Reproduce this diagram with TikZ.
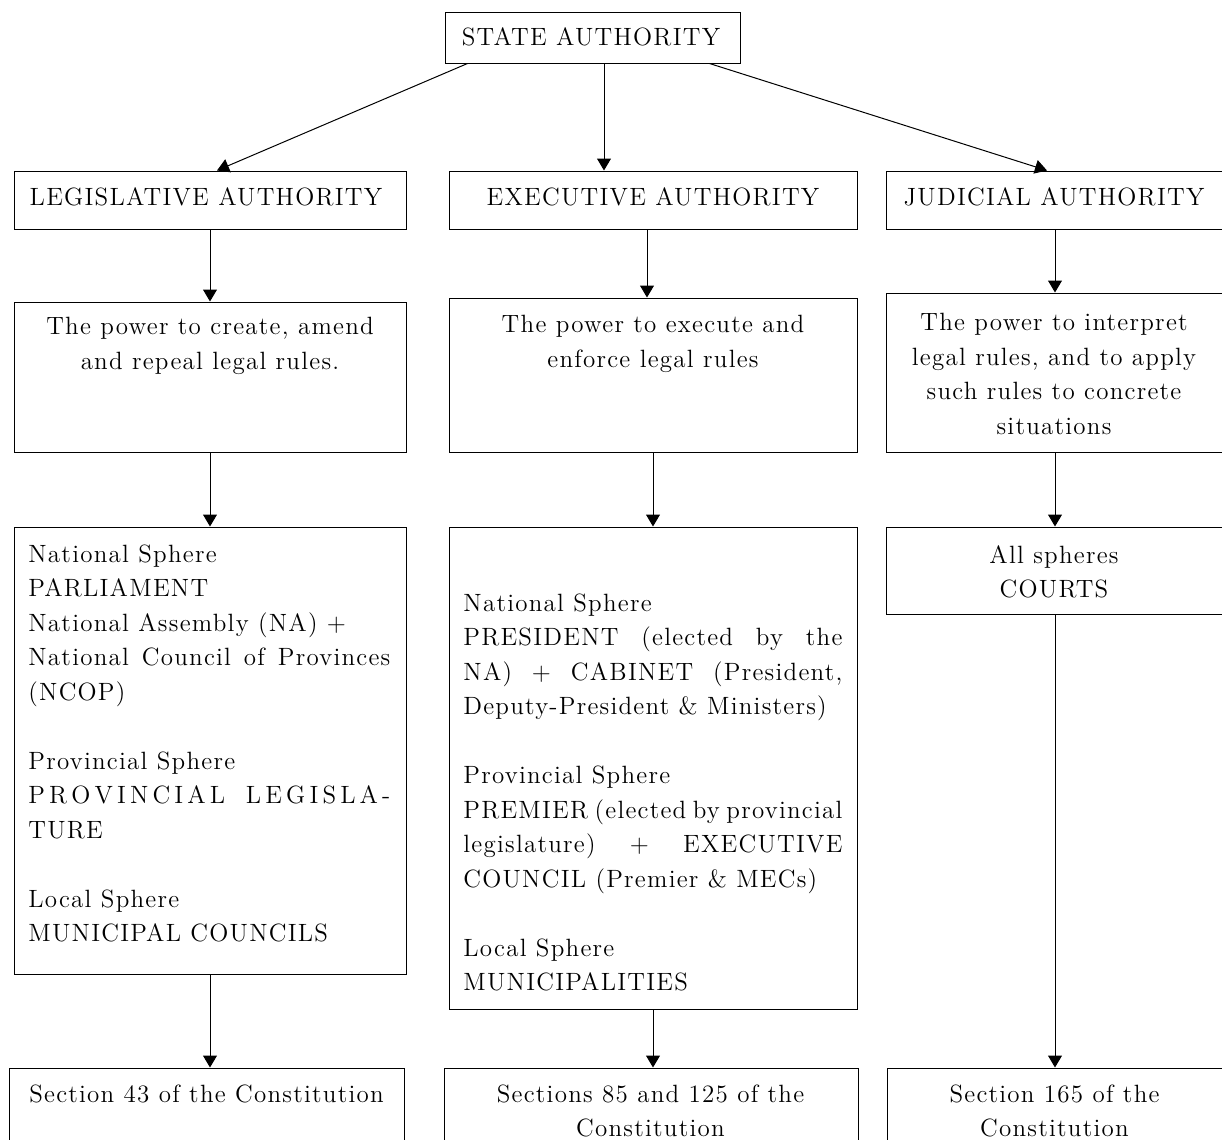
\documentclass[tikz,border=0pt]{standalone}
\usepackage{fontspec}
\setmainfont{Latin Modern Roman}[LetterSpace=5]
\usetikzlibrary{arrows.meta,fit}

% widths of the justified text blocks
\newlength\legw \setlength\legw{181pt}
\newlength\exew \setlength\exew{189.5pt}
\newcommand\justline[2]{\makebox[#1][s]{#2}}

\begin{document}
\begin{tikzpicture}[x=0.5pt,y=-0.5pt,
  frame/.style={draw, line width=0.5pt, inner sep=0pt},
  lbl/.style={inner sep=0pt, font=\fontsize{12.5}{17.25}\selectfont},
  arr/.style={-{Triangle[length=6pt,width=7pt]}, line width=0.5pt},
]
\path[use as bounding box] (0,0) rectangle (1222,1140);
\fill[white] (0,0) rectangle (1222,1140);
\clip (0,0) rectangle (1222,1140);

% ---- boxes ----
\node[frame, fit={(445,12) (740,63)}] (state) {};

\node[frame, fit={(14,171) (406,229)}] (leg1) {};
\node[frame, fit={(449,171) (857,229)}] (exe1) {};
\node[frame, fit={(886,171) (1224,229)}] (jud1) {};

\node[frame, fit={(14,302) (406,452)}] (leg2) {};
\node[frame, fit={(449,298) (857,452)}] (exe2) {};
\node[frame, fit={(886,293) (1224,452)}] (jud2) {};

\node[frame, fit={(14,527) (406,974)}] (leg3) {};
\node[frame, fit={(449,527) (857,1009)}] (exe3) {};
\node[frame, fit={(886,527) (1224,614)}] (jud3) {};

\node[frame, fit={(9,1068) (404,1150)}] (leg4) {};
\node[frame, fit={(444,1068) (858,1150)}] (exe4) {};
\node[frame, fit={(887,1068) (1224,1150)}] (jud4) {};

% ---- texts ----
\node[lbl, anchor=base] (state-t) at (591,46) {STATE AUTHORITY};
\node[lbl, anchor=base] (leg1-t) at (206,205) {LEGISLATIVE AUTHORITY};
\node[lbl, anchor=base] (exe1-t) at (653,205) {EXECUTIVE AUTHORITY};
\node[lbl, anchor=base] (jud1-t) at (1054,205) {JUDICIAL AUTHORITY};

\node[lbl, anchor=north, align=center] (leg2-t) at (210,317)
  {The power to create, amend\\and repeal legal rules.};
\node[lbl, anchor=north, align=center] (exe2-t) at (653,315)
  {The power to execute and\\enforce legal rules};
\node[lbl, anchor=north, align=center] (jud2-t) at (1054,313)
  {The power to interpret\\legal rules, and to apply\\such rules to concrete\\situations};

\node[lbl, anchor=north west, align=left] (leg3-t) at (28,544) {%
  National Sphere\\
  PARLIAMENT\\
  National Assembly (NA) +\\
  \justline\legw{National Council of Provinces}\\
  (NCOP)\\[17.25pt]
  Provincial Sphere\\
  \makebox[\legw]{P\hfill R\hfill O\hfill V\hfill I\hfill N\hfill C\hfill I\hfill A\hfill L\hfill\hfill\hfill\hfill\hfill L\hfill E\hfill G\hfill I\hfill S\hfill L\hfill A\hfill -}\\
  TURE\\[17.25pt]
  Local Sphere\\
  MUNICIPAL COUNCILS};

\node[lbl, anchor=north west, align=left] (exe3-t) at (463,593) {%
  National Sphere\\
  \justline\exew{PRESIDENT (elected by the}\\
  \justline\exew{NA) + CABINET (President,}\\
  Deputy-President \& Ministers)\\[17.25pt]
  Provincial Sphere\\
  \justline\exew{PREMIER (elected by provincial}\\
  \justline\exew{legislature) + EXECUTIVE}\\
  COUNCIL (Premier \& MECs)\\[17.25pt]
  Local Sphere\\
  MUNICIPALITIES};

\node[lbl, anchor=north, align=center] (jud3-t) at (1054,545)
  {All spheres\\COURTS};

\node[lbl, anchor=north, align=center] (leg4-t) at (206.5,1084)
  {Section 43 of the Constitution};
\node[lbl, anchor=north, align=center] (exe4-t) at (650.5,1084)
  {Sections 85 and 125 of the\\Constitution};
\node[lbl, anchor=north, align=center] (jud4-t) at (1054.5,1084)
  {Section 165 of the\\Constitution};

% ---- connectors ----
\coordinate (sa) at ([xshift=11.5pt]state.south west);
\coordinate (sb) at ([xshift=5.75pt]state.south);
\coordinate (sc) at ([xshift=-15.5pt]state.south east);
\draw[arr] (sa) -- ([xshift=3.5pt]leg1.north);
\draw[arr] (sb) -- (sb |- exe1.north);
\draw[arr] (sc) -- ([xshift=-4pt]jud1.north);

\draw[arr] (leg1.south) -- (leg2.north);
\coordinate (ea) at ([xshift=-3pt]exe1.south);
\draw[arr] (ea) -- (ea |- exe2.north);
\draw[arr] (jud1.south) -- (jud2.north);

\draw[arr] (leg2.south) -- (leg3.north);
\draw[arr] (exe2.south) -- (exe3.north);
\draw[arr] (jud2.south) -- (jud3.north);

\draw[arr] (leg3.south) -- (leg3.south |- leg4.north);
\draw[arr] (exe3.south) -- (exe3.south |- exe4.north);
\draw[arr] (jud3.south) -- (jud3.south |- jud4.north);
\end{tikzpicture}
\end{document}
